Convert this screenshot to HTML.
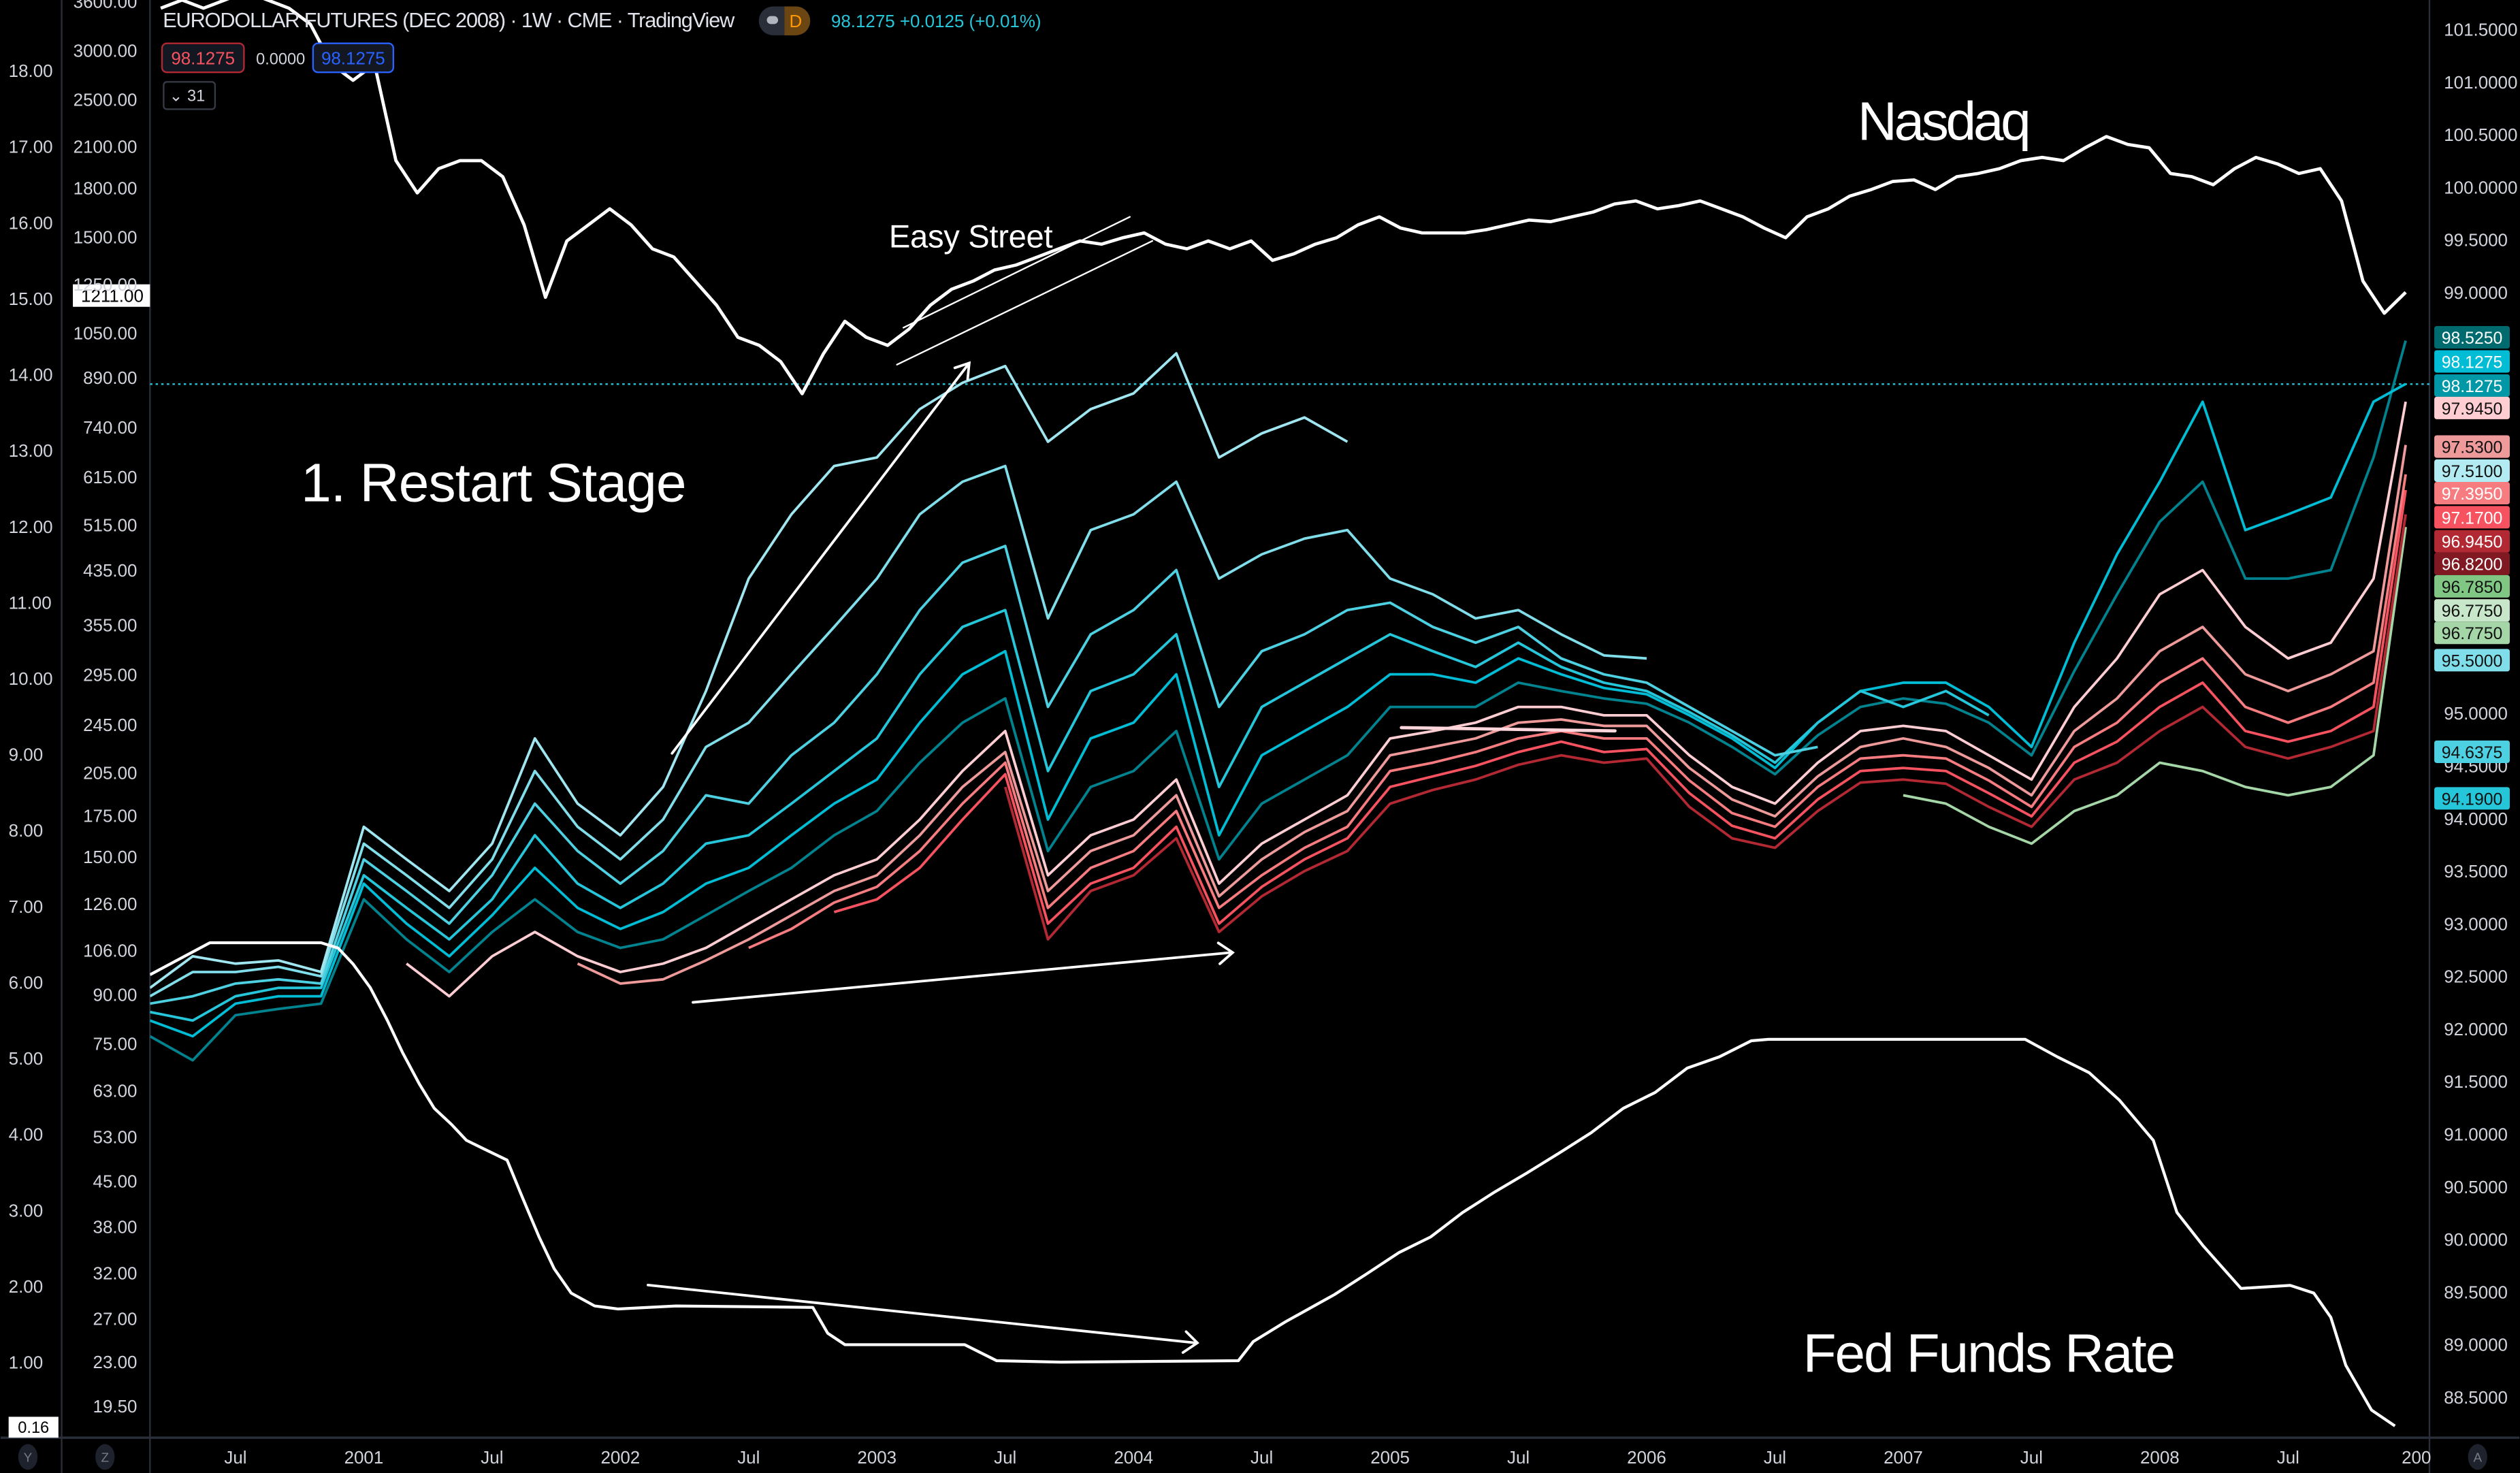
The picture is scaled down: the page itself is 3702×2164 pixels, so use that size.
<!DOCTYPE html>
<html><head><meta charset="utf-8"><style>
html,body{margin:0;padding:0;background:#000;}
svg{display:block;}
text{font-family:"Liberation Sans","DejaVu Sans",sans-serif;}
</style></head><body>
<svg id="chart" width="3702" height="2164" viewBox="0 0 1568 917" xmlns="http://www.w3.org/2000/svg">
<rect x="0" y="0" width="1568" height="917" fill="#000"/>
<defs><clipPath id="plot"><rect x="93" y="0" width="1419" height="895"/></clipPath></defs>
<g id="axes"></g>
<g id="series" clip-path="url(#plot)"></g>
<g id="annot"></g>
<g id="overlay"></g>
</svg>
<script>
// ---------- DATA ----------
const nasdaqStartMonth = 2.5; // months since Jan 2000, monthly step
const nasdaqValues = [3509,3617,3509,3617,3726,3617,3509,3308,2849,2684,2849,1992,1767,1933,1992,1992,1876,1569,1199,1478,1569,1665,1569,1435,1392,1273,1164,1033,1003,944,838,973,1097,1033,1003,1065,1164,1236,1273,1327,1351,1392,1435,1478,1460,1496,1523,1460,1435,1478,1435,1478,1375,1409,1460,1496,1569,1616,1550,1523,1523,1523,1541,1569,1597,1588,1616,1645,1695,1715,1665,1685,1715,1665,1616,1550,1496,1616,1665,1746,1789,1843,1854,1789,1876,1899,1933,1992,2016,1992,2089,2178,2115,2089,1899,1876,1821,1933,2016,1968,1899,1933,1715,1273,1130,1221];

const fedMonths = [2.0,4.8,10.0,10.8,11.5,12.3,13.1,13.8,14.6,15.3,16.1,16.8,17.6,18.7,19.4,20.2,20.9,21.7,22.8,23.9,26.6,33.0,33.7,34.5,40.1,41.6,44.6,52.9,53.6,55.1,57.4,58.9,60.4,61.9,63.4,64.9,66.4,67.9,69.4,70.9,72.4,73.9,75.4,76.9,77.7,89.7,91.2,92.7,94.1,95.7,96.8,98.0,99.8,102.1,103.2,104.0,104.7,105.9,107.0];
const fedValues = [6.10,6.52,6.52,6.45,6.24,5.93,5.50,5.08,4.66,4.34,4.13,3.92,3.81,3.66,3.18,2.65,2.23,1.91,1.74,1.70,1.74,1.72,1.38,1.23,1.23,1.02,1.00,1.02,1.27,1.53,1.89,2.16,2.44,2.65,2.97,3.24,3.49,3.75,4.02,4.34,4.55,4.87,5.02,5.23,5.25,5.25,5.02,4.81,4.45,3.92,2.97,2.54,1.97,2.01,1.91,1.59,0.96,0.37,0.16];

const edMonths = [2,4,6,8,10,12,14,16,18,20,22,24,26,28,30,32,34,36,38,40,42,44,46,48,50,52,54,56,58,60,62,64,66,68,70,72,74,76,78,80,82,84,86,88,90,92,94,96,98,100,102,104,106,107.5];
const N = null;
const edC1 = [92.39,92.69,92.62,92.65,92.54,93.92,93.61,93.31,93.76,94.76,94.14,93.84,94.30,95.21,96.28,96.89,97.35,97.43,97.89,98.14,98.30,97.58,97.89,98.04,98.42,97.43,97.66,97.81,97.58,N,N,N,N,N,N,N,N,N,N,N,N,N,N,N,N,N,N,N,N,N,N,N,N,N];
const edC2 = [92.31,92.54,92.54,92.59,92.50,93.76,93.46,93.15,93.61,94.45,93.92,93.61,93.99,94.68,94.91,95.37,95.82,96.28,96.89,97.20,97.35,95.90,96.74,96.89,97.20,96.28,96.51,96.66,96.74,96.28,96.13,95.90,95.98,95.75,95.55,95.52,N,N,N,N,N,N,N,N,N,N,N,N,N,N,N,N,N,N];
const edC3 = [92.24,92.31,92.43,92.47,92.43,93.61,93.31,93.00,93.46,94.14,93.69,93.38,93.69,94.22,94.14,94.60,94.91,95.37,95.98,96.43,96.59,95.06,95.75,95.98,96.36,95.06,95.59,95.75,95.98,96.05,95.82,95.67,95.82,95.52,95.37,95.29,95.06,94.83,94.60,94.68,N,N,N,N,N,N,N,N,N,N,N,N,N,N];
const edC4 = [92.16,92.08,92.31,92.39,92.39,93.46,93.15,92.85,93.23,93.84,93.38,93.15,93.38,93.76,93.84,94.14,94.45,94.76,95.37,95.82,95.98,94.45,95.21,95.37,95.75,94.30,95.06,95.29,95.52,95.75,95.59,95.44,95.67,95.44,95.29,95.21,95.01,94.79,94.53,94.91,95.21,95.06,95.21,94.98,N,N,N,N,N,N,N,N,N,N];
const edC5 = [92.08,91.93,92.24,92.31,92.31,93.38,93.00,92.69,93.08,93.53,93.15,92.95,93.11,93.38,93.53,93.84,94.14,94.37,94.91,95.37,95.59,93.99,94.76,94.91,95.37,93.84,94.60,94.83,95.06,95.37,95.37,95.29,95.52,95.37,95.24,95.18,94.98,94.76,94.48,94.91,95.21,95.29,95.29,95.06,94.68,95.67,96.51,97.20,97.96,96.74,96.89,97.05,97.96,98.13];
const edC6 = [91.93,91.70,92.13,92.19,92.24,93.23,92.85,92.54,92.92,93.23,92.92,92.77,92.85,93.08,93.31,93.53,93.84,94.07,94.53,94.91,95.14,93.69,94.30,94.45,94.83,93.61,94.14,94.37,94.60,95.06,95.06,95.06,95.29,95.21,95.14,95.09,94.91,94.68,94.42,94.79,95.06,95.14,95.09,94.91,94.60,95.40,96.13,96.82,97.20,96.28,96.28,96.36,97.43,98.54];
const edP1 = [N,N,N,N,N,N,92.62,92.31,92.69,92.92,92.69,92.54,92.62,92.77,93.00,93.23,93.46,93.61,93.99,94.45,94.83,93.46,93.84,93.99,94.37,93.38,93.76,93.99,94.22,94.76,94.83,94.91,95.06,95.06,94.98,94.98,94.60,94.30,94.14,94.53,94.83,94.88,94.83,94.60,94.37,95.06,95.52,96.13,96.36,95.82,95.52,95.67,96.28,97.96];
const edP2 = [N,N,N,N,N,N,N,N,N,N,92.62,92.43,92.47,92.65,92.85,93.08,93.31,93.46,93.84,94.30,94.63,93.31,93.69,93.84,94.22,93.26,93.61,93.87,94.07,94.60,94.68,94.76,94.91,94.94,94.88,94.88,94.48,94.18,94.02,94.40,94.68,94.76,94.68,94.48,94.22,94.83,95.14,95.59,95.82,95.37,95.21,95.37,95.59,97.55];
const edP3 = [N,N,N,N,N,N,N,N,N,N,N,N,N,N,92.77,92.95,93.20,93.35,93.69,94.14,94.53,93.15,93.53,93.69,94.07,93.15,93.46,93.72,93.92,94.45,94.53,94.63,94.76,94.83,94.76,94.76,94.36,94.05,93.92,94.30,94.57,94.60,94.57,94.36,94.11,94.68,94.91,95.29,95.52,95.06,94.91,95.06,95.29,97.27];
const edP4 = [N,N,N,N,N,N,N,N,N,N,N,N,N,N,N,N,93.11,93.23,93.53,93.99,94.42,93.00,93.38,93.53,93.92,93.00,93.35,93.61,93.81,94.30,94.40,94.50,94.63,94.73,94.63,94.66,94.24,93.93,93.81,94.18,94.45,94.48,94.45,94.24,94.02,94.53,94.73,95.06,95.29,94.83,94.73,94.83,95.06,97.12];
const edP5 = [N,N,N,N,N,N,N,N,N,N,N,N,N,N,N,N,N,N,N,N,94.30,92.85,93.31,93.46,93.81,92.92,93.26,93.50,93.69,94.14,94.27,94.37,94.51,94.60,94.53,94.57,94.11,93.81,93.72,94.07,94.34,94.37,94.33,94.11,93.92,94.37,94.53,94.83,95.06,94.68,94.57,94.68,94.83,96.89];
const edG1 = [N,N,N,N,N,N,N,N,N,N,N,N,N,N,N,N,N,N,N,N,N,N,N,N,N,N,N,N,N,N,N,N,N,N,N,N,N,N,N,N,N,94.22,94.14,93.92,93.76,94.07,94.22,94.53,94.45,94.30,94.22,94.30,94.60,96.77];

const leftRateTicks = ["18.00","17.00","16.00","15.00","14.00","13.00","12.00","11.00","10.00","9.00","8.00","7.00","6.00","5.00","4.00","3.00","2.00","1.00"];
const leftRateTickValues = [18,17,16,15,14,13,12,11,10,9,8,7,6,5,4,3,2,1];
const nasdaqTickValues = [3600,3000,2500,2100,1800,1500,1050,890,740,615,515,435,355,295,245,205,175,150,126,106,90,75,63,53,45,38,32,27,23,19.5];
const rightTickValues = [101.5,101.0,100.5,100.0,99.5,99.0,95.0,94.5,94.0,93.5,93.0,92.5,92.0,91.5,91.0,90.5,90.0,89.5,89.0,88.5];
const timeLabels = ["Jul","2001","Jul","2002","Jul","2003","Jul","2004","Jul","2005","Jul","2006","Jul","2007","Jul","2008","Jul","200"];
const timeLabelMonths = [18,24,30,36,42,48,54,60,66,72,78,84,90,96,102,108,114,120].map(m=>m-12);
const priceTags = ["98.5250","98.1275","98.1275","97.9450","97.5300","97.5100","97.3950","97.1700","96.9450","96.8200","96.7850","96.7750","96.7750","95.5000","94.6375","94.1900"];
const priceTagY = [210,225,240,254,278,293,307,322,337,351,365,380,394,411,468,497];
const priceTagBg = ["#006b6f","#00bcd4","#0097a7","#ffcdd2","#ef9a9a","#b2ebf2","#f77c80","#f7525f","#b22833","#801922","#81c784","#c8e6c9","#a5d6a7","#80deea","#4dd0e1","#26c6da"];
const priceTagFg = ["#fff","#fff","#fff","#111","#111","#111","#fff","#fff","#fff","#fff","#111","#111","#111","#111","#111","#111"];

// ---------- SCALES ----------
function xM(m){ return 93 + (m-2)*13.31; }
function yR(v){ return 444 - (v-95)*65.5; }
function yL(v){ return 848 - (v-1)*47.3; }
function yN(v){ return 235 - 167.6*Math.log(v/890); }

const NS="http://www.w3.org/2000/svg";
function mk(tag, attrs, parent){ const e=document.createElementNS(NS,tag); for(const k in attrs) e.setAttribute(k,attrs[k]); parent.appendChild(e); return e; }
const axes=document.getElementById('axes'), series=document.getElementById('series'), annot=document.getElementById('annot'), overlay=document.getElementById('overlay');

// frame lines
let ln;
ln=mk('line',{x1:38,y1:0,x2:38,y2:917,stroke:'#2a2e39','stroke-width':1},axes);
 
ln=mk('line',{x1:93,y1:0,x2:93,y2:917,stroke:'#2a2e39','stroke-width':1},axes);
 
ln=mk('line',{x1:1512,y1:0,x2:1512,y2:917,stroke:'#2a2e39','stroke-width':1},axes);
 
ln=mk('line',{x1:0,y1:895,x2:1568,y2:895,stroke:'#2a2e39','stroke-width':1.5},axes);
 

// left rate axis
leftRateTicks.forEach((t,i)=>{
  const e=mk('text',{x:5,y:yL(leftRateTickValues[i])+4,'font-size':11,fill:'#d1d4dc'},axes);
  e.textContent=t;
   
});
// nasdaq axis
nasdaqTickValues.forEach(v=>{
  const e=mk('text',{x:85,y:yN(v)+4,'font-size':11,fill:'#d1d4dc','text-anchor':'end'},axes);
  e.textContent=v.toFixed(2);
   
});
// right axis
rightTickValues.forEach(v=>{
  const e=mk('text',{x:1521,y:yR(v)+4,'font-size':11,fill:'#d1d4dc'},axes);
  e.textContent=v.toFixed(4);
   
});
// time axis
timeLabels.forEach((t,i)=>{
  const e=mk('text',{x:xM(timeLabelMonths[i]),y:911,'font-size':11,fill:'#d1d4dc','text-anchor':'middle'},axes);
  e.textContent=t;
   
});

// dotted price line
ln=mk('line',{x1:93,y1:yR(98.1275),x2:1512,y2:yR(98.1275),stroke:'#26c6da','stroke-width':1,'stroke-dasharray':'1.5 2'},series);
 

function pathFrom(ms, vs, yf){
  let d='', pen=false;
  for(let i=0;i<vs.length;i++){
    if(vs[i]===null){ pen=false; continue; }
    d += (pen?'L':'M') + xM(ms[i]).toFixed(1)+','+yf(vs[i]).toFixed(1);
    pen=true;
  }
  return d;
}
const edSeries=[[edG1,'#a5d6a7'],[edP5,'#b22833'],[edP4,'#f7525f'],[edP3,'#f77c80'],[edP2,'#ef9a9a'],[edP1,'#ffcdd2'],[edC6,'#00838f'],[edC5,'#00bcd4'],[edC4,'#26c6da'],[edC3,'#4dd0e1'],[edC2,'#80deea'],[edC1,'#a0e6f0']];
edSeries.forEach(([vals,col],k)=>{
  const p=mk('path',{d:pathFrom(edMonths,vals,yR),fill:'none',stroke:col,'stroke-width':1.6,'stroke-linejoin':'round'},series);
  
  
});
// nasdaq
const nqMonths = nasdaqValues.map((v,i)=>nasdaqStartMonth+i);
let p=mk('path',{d:pathFrom(nqMonths,nasdaqValues,yN),fill:'none',stroke:'#fff','stroke-width':2,'stroke-linejoin':'round'},series);
 
// fed funds
p=mk('path',{d:pathFrom(fedMonths,fedValues,yL),fill:'none',stroke:'#fff','stroke-width':1.8,'stroke-linejoin':'round'},series);
 

// price tags
priceTags.forEach((t,i)=>{
  const r=mk('rect',{x:1515,y:priceTagY[i]-7,width:47,height:14,rx:1.5,fill:priceTagBg[i]},overlay);
   
  const e=mk('text',{x:1538.5,y:priceTagY[i]+4,'font-size':10.5,fill:priceTagFg[i],'text-anchor':'middle'},overlay);
  e.textContent=t;
   
});
</script>
<svg style="position:absolute;left:0;top:0" width="3702" height="2164" viewBox="0 0 1568 917" xmlns="http://www.w3.org/2000/svg">
<g fill="none" stroke="#fff" stroke-width="1.6" stroke-linecap="round">
<line x1="418" y1="469" x2="603" y2="226"/>
<polyline points="594,229 603,226 602,236"/>
<line x1="431" y1="624" x2="766" y2="593"/>
<polyline points="758,587 767,593 759,600"/>
<line x1="403" y1="800" x2="744" y2="836"/>
<polyline points="738,829 745,836 736,842"/>
<line stroke-width="1" x1="562" y1="204" x2="703" y2="135"/>
<line stroke-width="1" x1="558" y1="227" x2="717" y2="150"/>
<line stroke="#ffd6dc" stroke-width="2" x1="872" y1="453" x2="1005" y2="455"/>
</g>
<text x="553" y="154" font-size="20" fill="#fff" textLength="102">Easy Street</text>
<text x="1156" y="87" font-size="34" fill="#fff" textLength="108">Nasdaq</text>
<text x="187" y="312" font-size="34" fill="#fff" textLength="240">1. Restart Stage</text>
<text x="1122" y="854" font-size="34" fill="#fff" textLength="232">Fed Funds Rate</text>

<text x="101" y="17" font-size="13" fill="#e0e3eb" textLength="356">EURODOLLAR FUTURES (DEC 2008) · 1W · CME · TradingView</text>
<g>
<rect x="472" y="4" width="32" height="18" rx="9" fill="#2a2e39"/>
<path d="M488 4 h7 a9 9 0 0 1 0 18 h-7 z" fill="#6b4512"/>
<rect x="477" y="10" width="7" height="5" rx="2.5" fill="#b2b5be"/>
<text x="491" y="17" font-size="11" fill="#ff9800">D</text>
</g>
<text x="517" y="17" font-size="11" fill="#26c6da">98.1275 +0.0125 (+0.01%)</text>
<rect x="100.5" y="27" width="51" height="18" rx="3" fill="#131722" stroke="#b22833"/>
<text x="126" y="40" font-size="11" fill="#f7525f" text-anchor="middle">98.1275</text>
<text x="159" y="40" font-size="10" fill="#d1d4dc">0.0000</text>
<rect x="194.5" y="27" width="50" height="18" rx="3" fill="#131722" stroke="#2962ff"/>
<text x="219.5" y="40" font-size="11" fill="#2962ff" text-anchor="middle">98.1275</text>
<rect x="101.5" y="51" width="32" height="17" rx="2" fill="none" stroke="#363a45"/>
<text x="105" y="63" font-size="10" fill="#d1d4dc">⌄ 31</text>

<rect x="45" y="177" width="48" height="14" fill="#fff"/>
<text x="89" y="188" font-size="11" fill="#000" text-anchor="end">1211.00</text>
<text x="85" y="181" font-size="11" fill="#d1d4dc" text-anchor="end">1250.00</text>
<rect x="5" y="882" width="31" height="13" fill="#fff"/>
<text x="20.5" y="892" font-size="10" fill="#000" text-anchor="middle">0.16</text>

<g font-size="8" fill="#787b86" text-anchor="middle">
<ellipse cx="17" cy="907" rx="6" ry="8" fill="#1e222d"/><text x="17" y="910">Y</text>
<ellipse cx="65" cy="907" rx="6" ry="8" fill="#1e222d"/><text x="65" y="910">Z</text>
<ellipse cx="1542" cy="907" rx="6" ry="8" fill="#1e222d"/><text x="1542" y="910">A</text>
</g>
</svg>
</body></html>
